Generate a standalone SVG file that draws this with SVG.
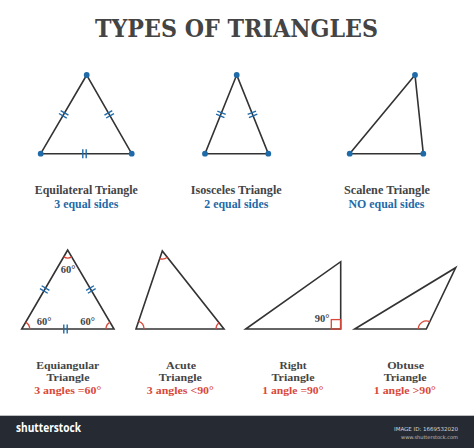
<svg xmlns="http://www.w3.org/2000/svg" width="474" height="448" viewBox="0 0 474 448">
<defs>
<style>
.tri{fill:none;stroke:#333;stroke-width:1.6;stroke-linejoin:miter}
.tick{stroke:#1f6aa8;stroke-width:1.4;fill:none}
.arc{fill:none;stroke:#d9483a;stroke-width:1.3}
.dot{fill:#1f6aa8}
.title{font-family:"DejaVu Serif",serif;font-weight:bold;font-size:25px;fill:#444}
.lbl{font-family:"Liberation Serif","DejaVu Serif",serif;font-weight:bold;font-size:12.5px;fill:#444;text-anchor:middle}
.lbl2{font-family:"Liberation Serif","DejaVu Serif",serif;font-weight:bold;font-size:11px;fill:#444;text-anchor:middle}
.blue{fill:#1f6aa8}
.red{fill:#d9483a}
.deg{font-family:"Liberation Serif","DejaVu Serif",serif;font-weight:bold;font-size:10.5px;fill:#444;text-anchor:middle}
</style>
<g id="tk"><line class="tick" x1="-1.7" y1="-4.5" x2="-1.7" y2="4.5"/><line class="tick" x1="1.7" y1="-4.5" x2="1.7" y2="4.5"/></g>
</defs>
<rect width="474" height="448" fill="#fff"/>
<text class="title" x="95" y="37" textLength="283" lengthAdjust="spacingAndGlyphs">TYPES OF TRIANGLES</text>

<g id="equilateral">
<polygon class="tri" points="86.7,75 40.7,153.7 131.7,153.7"/>
<use href="#tk" transform="translate(63.7,114.3) rotate(-59.7)"/>
<use href="#tk" transform="translate(109.2,114.3) rotate(60.2)"/>
<use href="#tk" transform="translate(84.5,153.7)"/>
<circle class="dot" cx="86.7" cy="75" r="2.9"/><circle class="dot" cx="40.7" cy="153.7" r="2.9"/><circle class="dot" cx="131.7" cy="153.7" r="2.9"/>
<text class="lbl" x="86.3" y="194" textLength="103" lengthAdjust="spacingAndGlyphs">Equilateral Triangle</text>
<text class="lbl blue" x="86.3" y="207.5" textLength="64" lengthAdjust="spacingAndGlyphs">3 equal sides</text>
</g>

<g id="isosceles">
<polygon class="tri" points="236.7,75 205,153.7 268.3,153.7"/>
<use href="#tk" transform="translate(220.9,114.3) rotate(-68.1)"/>
<use href="#tk" transform="translate(252.5,114.3) rotate(68.1)"/>
<circle class="dot" cx="236.7" cy="75" r="2.9"/><circle class="dot" cx="205" cy="153.7" r="2.9"/><circle class="dot" cx="268.3" cy="153.7" r="2.9"/>
<text class="lbl" x="236.2" y="194" textLength="91" lengthAdjust="spacingAndGlyphs">Isosceles Triangle</text>
<text class="lbl blue" x="236.3" y="207.5" textLength="64" lengthAdjust="spacingAndGlyphs">2 equal sides</text>
</g>

<g id="scalene">
<polygon class="tri" points="415,75 349.7,153.7 423.3,153.7"/>
<circle class="dot" cx="415" cy="75" r="2.9"/><circle class="dot" cx="349.7" cy="153.7" r="2.9"/><circle class="dot" cx="423.3" cy="153.7" r="2.9"/>
<text class="lbl" x="387" y="194" textLength="86" lengthAdjust="spacingAndGlyphs">Scalene Triangle</text>
<text class="lbl blue" x="386.5" y="207.5" textLength="76" lengthAdjust="spacingAndGlyphs">NO equal sides</text>
</g>

<g id="equiangular">
<polygon class="tri" points="67.7,250 21.7,329 114,329"/>
<path class="arc" d="M63.7,256.9 A8,8 0 0 0 71.7,256.9"/>
<path class="arc" d="M29.7,329 A8,8 0 0 0 25.7,322.1"/>
<path class="arc" d="M106,329 A8,8 0 0 1 110,322.1"/>
<use href="#tk" transform="translate(44.7,289.5) rotate(-59.8)"/>
<use href="#tk" transform="translate(90.9,289.5) rotate(59.6)"/>
<use href="#tk" transform="translate(65.5,329)"/>
<text class="deg" x="68" y="273.3">60°</text>
<text class="deg" x="44" y="325">60°</text>
<text class="deg" x="87.5" y="325">60°</text>
<text class="lbl2" x="67.7" y="368.5" textLength="63" lengthAdjust="spacingAndGlyphs">Equiangular</text>
<text class="lbl2" x="68" y="381.2" textLength="43" lengthAdjust="spacingAndGlyphs">Triangle</text>
<text class="lbl2 red" x="67.7" y="394" textLength="67" lengthAdjust="spacingAndGlyphs">3 angles =60°</text>
</g>

<g id="acute">
<polygon class="tri" points="162.3,251 136,329 224,329"/>
<path class="arc" d="M159.7,258.6 A8,8 0 0 0 167.3,257.3"/>
<path class="arc" d="M144,329 A8,8 0 0 0 138.6,321.4"/>
<path class="arc" d="M216,329 A8,8 0 0 1 219,322.7"/>
<text class="lbl2" x="181" y="368.5" textLength="30" lengthAdjust="spacingAndGlyphs">Acute</text>
<text class="lbl2" x="180.3" y="381.2" textLength="43" lengthAdjust="spacingAndGlyphs">Triangle</text>
<text class="lbl2 red" x="180.3" y="394" textLength="67" lengthAdjust="spacingAndGlyphs">3 angles &lt;90°</text>
</g>

<g id="right">
<polygon class="tri" points="245.7,329 340.7,329 340.7,261.7"/>
<rect x="331.3" y="319.6" width="9.4" height="9.4" fill="none" stroke="#d9483a" stroke-width="1.3"/>
<text class="deg" x="322" y="321.7">90°</text>
<text class="lbl2" x="293" y="368.5" textLength="27" lengthAdjust="spacingAndGlyphs">Right</text>
<text class="lbl2" x="293" y="381.2" textLength="43" lengthAdjust="spacingAndGlyphs">Triangle</text>
<text class="lbl2 red" x="292.8" y="394" textLength="61" lengthAdjust="spacingAndGlyphs">1 angle =90°</text>
</g>

<g id="obtuse">
<polygon class="tri" points="354.7,329 426.3,329 455.7,267.7"/>
<path class="arc" d="M418.3,329 A8,8 0 0 1 429.8,321.8"/>
<text class="lbl2" x="405.7" y="368.5" textLength="37" lengthAdjust="spacingAndGlyphs">Obtuse</text>
<text class="lbl2" x="405.2" y="381.2" textLength="43" lengthAdjust="spacingAndGlyphs">Triangle</text>
<text class="lbl2 red" x="404.8" y="394" textLength="62" lengthAdjust="spacingAndGlyphs">1 angle &gt;90°</text>
</g>

<g id="footer">
<rect x="0" y="415.7" width="474" height="32.3" fill="#262a33"/>
<text x="16" y="432.3" font-family="'Open Sans','DejaVu Sans',sans-serif" font-weight="bold" font-size="12" fill="#fff" textLength="65" lengthAdjust="spacingAndGlyphs">shutterstock</text>
<text x="458" y="430.7" font-family="'DejaVu Sans',sans-serif" font-size="5.5" fill="#d8d8d8" text-anchor="end">IMAGE ID: 1669532020</text>
<text x="458" y="439" font-family="'DejaVu Sans',sans-serif" font-size="5" fill="#c0c0c0" text-anchor="end">www.shutterstock.com</text>
</g>
</svg>
